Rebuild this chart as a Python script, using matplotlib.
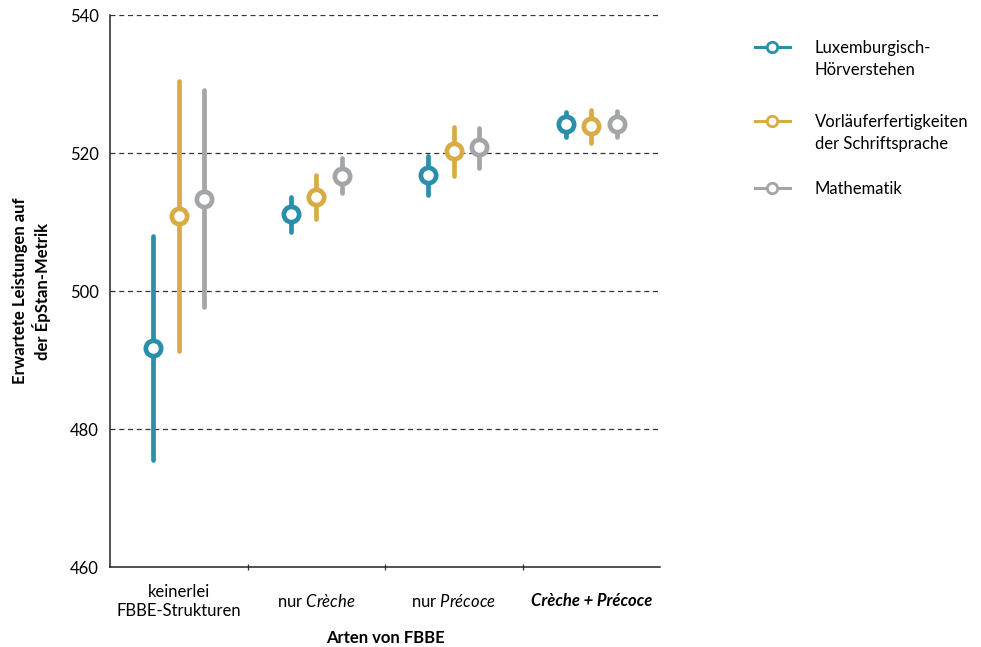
import numpy as np
import matplotlib.pyplot as plt
from matplotlib.lines import Line2D

plt.rcParams['font.family'] = ['Lato', 'DejaVu Sans']
plt.rcParams['mathtext.fontset'] = 'custom'
plt.rcParams['mathtext.rm'] = 'Lato'
plt.rcParams['mathtext.it'] = 'Lato:italic'
plt.rcParams['mathtext.bf'] = 'Lato:bold'

# Kategorien und Schätzwerte (Mittelwert, untere / obere Grenze)
kategorien = ["keinerlei\nFBBE-Strukturen", r"nur $\mathit{Crèche}$",
              r"nur $\mathit{Précoce}$", "Crèche + Précoce"]
reihen = ["Luxemburgisch-\nHörverstehen", "Vorläuferfertigkeiten\nder Schriftsprache",
          "Mathematik"]
farben = ["#2a8fab", "#d9ab45", "#a3a6a9"]

mittel = [
    [491.7, 511.2, 516.8, 524.2],
    [510.9, 513.6, 520.3, 523.9],
    [513.3, 516.7, 520.9, 524.2],
]
unten = [
    [475.5, 508.6, 513.9, 522.3],
    [491.3, 510.4, 516.7, 521.4],
    [497.7, 514.2, 517.8, 522.3],
]
oben = [
    [508.0, 513.6, 519.6, 526.0],
    [530.4, 516.8, 523.8, 526.2],
    [529.1, 519.3, 523.6, 526.1],
]

W, H = 981, 647
fig = plt.figure(figsize=(W/100, H/100), dpi=100)
ax = fig.add_axes([110/W, 80/H, 550/W, 552/H])

x = np.arange(len(kategorien)) + 0.5
versatz = [-0.185, 0.0, 0.185]

for i in range(len(reihen)):
    xs = x + versatz[i]
    ax.vlines(xs, unten[i], oben[i], color=farben[i], lw=3.4,
              capstyle='round', zorder=3)
    ax.plot(xs, mittel[i], 'o', ms=11, mfc='white', mec=farben[i],
            mew=3.4, ls='none', zorder=4)

ax.set_xlim(0, 4)
ax.set_ylim(460, 540)
ax.set_yticks([460, 480, 500, 520, 540])
for yv in [480, 500, 520, 540]:
    ax.axhline(yv, color='#333333', lw=0.9, ls=(0, (4, 3)), zorder=1)

ax.set_xticks([1, 2, 3])
ax.set_xticklabels([])
ax.tick_params(axis='x', direction='inout', length=5, width=0.9, color='#333333')
ax.tick_params(axis='y', length=0, labelsize=12, pad=8)

for xi, lab in zip(x, kategorien):
    if lab.startswith("Crèche"):
        ax.text(xi, 455.0, lab, ha='center', va='center', fontsize=12,
                fontweight='bold', fontstyle='italic')
    else:
        ax.text(xi, 455.0, lab, ha='center', va='center', fontsize=12,
                linespacing=1.3)

ax.spines['top'].set_visible(False)
ax.spines['right'].set_visible(False)
ax.spines['left'].set_color('#222222')
ax.spines['bottom'].set_color('#222222')
ax.spines['left'].set_linewidth(1.1)
ax.spines['bottom'].set_linewidth(1.1)

fig.text(385/W, 1 - 638/H, "Arten von FBBE", fontsize=12, fontweight='bold',
         ha='center', va='center')
ax.set_ylabel("Erwartete Leistungen auf\nder ÉpStan-Metrik", fontsize=12,
              fontweight='bold', labelpad=14)

# Legende von Hand gesetzt
leg_y = [47, 121, 188]
for c, lab, yy in zip(farben, reihen, leg_y):
    yf = 1 - yy/H
    fig.add_artist(Line2D([755/W, 790/W], [yf, yf], color=c, lw=2.2,
                          transform=fig.transFigure))
    fig.add_artist(Line2D([772/W], [yf], marker='o', ms=7.5, mfc='white',
                          mec=c, mew=2.0, transform=fig.transFigure))
    fig.text(815/W, 1 - (yy - 7)/H, lab, fontsize=12, ha='left', va='top',
             linespacing=1.45)

fig.savefig("out.png", dpi=100)
